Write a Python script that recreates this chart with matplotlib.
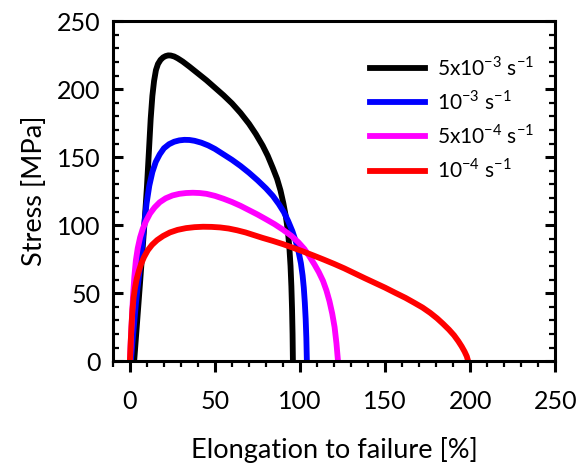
#!/usr/bin/env python3
"""Stress vs. elongation to failure at four strain rates."""

import matplotlib

matplotlib.use("Agg")
import matplotlib.pyplot as plt
from matplotlib.ticker import MultipleLocator

# ----------------------
# Data
# ----------------------
labels = [
    r"5x10$^{\mathregular{-3}}$ s$^{\mathregular{-1}}$",
    r"10$^{\mathregular{-3}}$ s$^{\mathregular{-1}}$",
    r"5x10$^{\mathregular{-4}}$ s$^{\mathregular{-1}}$",
    r"10$^{\mathregular{-4}}$ s$^{\mathregular{-1}}$",
]
colors = ["#000000", "#0000ff", "#ff00ff", "#ff0000"]

# 5x10^-3 s^-1
elong_5e3 = [2.5, 4, 5.5, 7, 8.5, 10, 11.2, 12.2, 13.2, 14.2, 15.3, 16.5, 18, 19.5,
             21, 22.5, 24, 26, 28, 31, 35, 40, 45, 50, 55, 60, 65, 70, 74, 78, 81,
             84, 86.5, 88.5, 90.2, 91.7, 92.8, 93.7, 94.4, 94.9, 95.3, 95.6, 95.8]
stress_5e3 = [0, 25, 50, 75, 100, 128, 155, 178, 195, 206, 214, 218.5, 221.5, 223.3,
              224.3, 224.8, 224.7, 224, 222.7, 220.3, 216.5, 211.5, 206.5, 201, 195.5,
              189.5, 182.5, 174.5, 167, 158.5, 151, 142, 134, 125.5, 116, 106, 96, 84,
              70, 55, 38, 20, 0]

# 10^-3 s^-1
elong_1e3 = [0.6, 1.5, 2.5, 3.5, 4.5, 5.5, 6.8, 8.2, 9.8, 11.4, 13.2, 15.2, 17.5, 20,
             23, 26, 29, 32, 35, 38, 42, 46, 50, 55, 60, 65, 70, 75, 80, 84, 87.5,
             90.5, 93, 95.5, 97.5, 99.2, 100.5, 101.5, 102.2, 102.8, 103.3, 103.7, 104]
stress_1e3 = [0, 14, 28, 42, 54, 64.5, 80, 98, 116, 129, 139, 146.5, 152, 156.5, 159.5,
              161.3, 162.3, 162.7, 162.6, 162, 160.6, 158.6, 156, 152, 148, 143.5,
              138.5, 133, 127, 121.5, 115.5, 109.5, 103, 95.5, 88, 80, 72, 63, 54, 43,
              31, 17, 0]

# 5x10^-4 s^-1
elong_5e4 = [0, 0.5, 1.1, 1.8, 2.6, 3.5, 4.6, 6, 7.6, 9.5, 11.8, 14.5, 17.5, 21, 25,
             29, 33, 37, 41, 45, 50, 55, 60, 65, 70, 75, 80, 85, 90, 95, 99, 102.5,
             105.5, 108.5, 111, 113.5, 115.5, 117.3, 118.9, 120.3, 121.4, 122.3]
stress_5e4 = [0, 15, 30, 47, 62, 74, 83, 91, 97.5, 103, 108.5, 113, 116.8, 119.7, 121.8,
              123, 123.6, 123.8, 123.6, 123, 121.5, 119.4, 117, 114.2, 111, 107.8,
              104.3, 100.7, 96.6, 92, 87.4, 82.5, 77, 71, 65.5, 59, 52, 44, 35, 25, 13, 0]

# 10^-4 s^-1
elong_1e4 = [0, 0.4, 0.9, 1.5, 2.2, 3, 4, 5.2, 6.6, 8.3, 10.5, 13, 16, 19.5, 23.5, 28,
             33, 38, 43, 48, 53, 58, 63, 68, 73, 78, 84, 90, 96, 102, 108, 114, 120,
             126, 132, 138, 144, 150, 156, 162, 167, 172, 176.5, 180.5, 184, 187.5,
             190.5, 193, 195, 196.7, 198, 198.8]
stress_1e4 = [0, 12, 25, 38, 47, 54, 60.5, 66, 71.5, 76.5, 81.5, 85.5, 89, 92, 94.6,
              96.5, 97.8, 98.5, 98.8, 98.7, 98.3, 97.5, 96.2, 94.6, 92.6, 90.6, 88.4, 86,
              83.3, 80.5, 77.6, 74.6, 71.5, 68.2, 64.6, 61, 57.5, 54, 50.2, 46.5, 43,
              39.4, 35.5, 31.5, 27.5, 23.2, 19, 14.7, 10.8, 7, 3.5, 0]

x_ticks = [0, 50, 100, 150, 200, 250]
y_ticks = [0, 50, 100, 150, 200, 250]


def main() -> int:
    plt.rcParams["font.family"] = ["Lato", "DejaVu Sans"]

    fig = plt.figure(figsize=(5.76, 4.69), dpi=100)
    ax = fig.add_axes([0.196, 0.230, 0.768, 0.725])

    series = [
        (elong_5e3, stress_5e3),
        (elong_1e3, stress_1e3),
        (elong_5e4, stress_5e4),
        (elong_1e4, stress_1e4),
    ]
    for (xs, ys), lab, col in zip(series, labels, colors):
        ax.plot(xs, ys, color=col, lw=4.2, label=lab, solid_joinstyle="round")

    ax.set_xlim(-10, 250)
    ax.set_ylim(0, 250)
    ax.set_xticks(x_ticks)
    ax.set_yticks(y_ticks)
    ax.xaxis.set_minor_locator(MultipleLocator(10))
    ax.yaxis.set_minor_locator(MultipleLocator(10))

    for s in ax.spines.values():
        s.set_linewidth(2.2)

    ax.tick_params(axis="x", which="major", direction="out", length=8, width=2.2,
                   pad=13, labelsize=18)
    ax.tick_params(axis="x", which="minor", direction="out", length=4, width=1.6)
    ax.tick_params(axis="y", which="major", direction="in", length=7, width=2.2,
                   right=True, pad=9, labelsize=18)
    ax.tick_params(axis="y", which="minor", direction="in", length=4, width=1.6,
                   right=True)

    ax.set_xlabel("Elongation to failure [%]", fontsize=19.5, labelpad=17)
    ax.set_ylabel("Stress [MPa]", fontsize=19.5, labelpad=7)

    ax.legend(loc="upper left", bbox_to_anchor=(0.582, 0.90), frameon=False,
              fontsize=15, handlelength=2.6, handletextpad=0.6,
              labelspacing=0.5, borderpad=0, borderaxespad=0)

    fig.savefig("out.png", dpi=100)
    plt.close(fig)
    return 0


if __name__ == "__main__":
    raise SystemExit(main())
